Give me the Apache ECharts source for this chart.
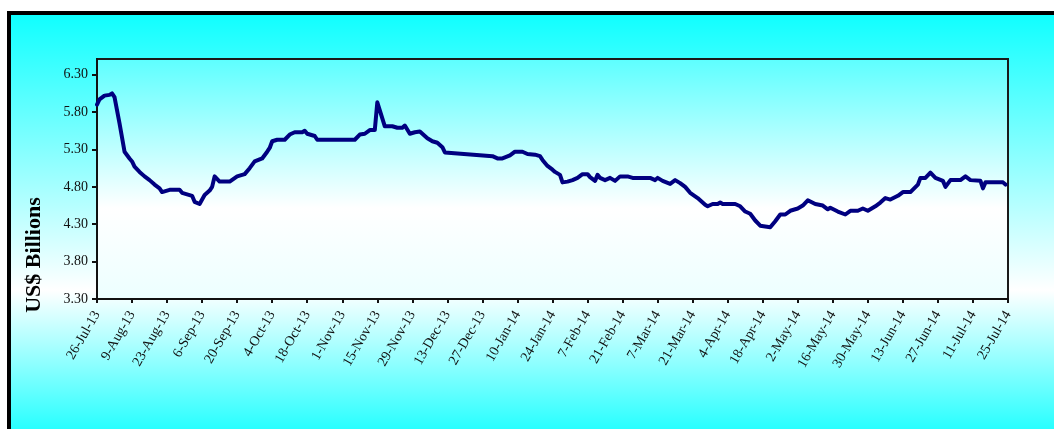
<!DOCTYPE html>
<html lang="en">
<head>
    <meta charset="UTF-8">
    <title>Reserves</title>
    <script src="https://cdn.jsdelivr.net/npm/echarts@6/dist/echarts.min.js"></script>
</head>
<style>
    *{
        margin: 0;
        padding: 0;
    }
    html , body{
        width: 100%;
        height: 100%;
        overflow: hidden;
        background: #fff;
    }
    .frame{
        position: absolute;
        left: 7px;
        top: 11px;
        width: 1100px;
        height: 430px;
        border: 4px solid #000;
        background: linear-gradient(to bottom, #10ffff 0%, #ffffff 64%, #10ffff 100%);
    }
    .container{
        position: absolute;
        left: 0;
        top: 0;
        width: 1054px;
        height: 429px;
    }
</style>
<body>
<div class="frame"></div>
<div class="container"></div>
<script>
    // daily values (dates as yyyy-mm-dd)
    let dates=['2013-07-26','2013-07-27','2013-07-29','2013-07-31','2013-08-01','2013-08-02','2013-08-04','2013-08-06','2013-08-08','2013-08-09',
        '2013-08-10','2013-08-12','2013-08-14','2013-08-16','2013-08-18','2013-08-20','2013-08-21','2013-08-22','2013-08-24','2013-08-28',
        '2013-08-29','2013-09-01','2013-09-02','2013-09-03','2013-09-05','2013-09-07','2013-09-09','2013-09-10','2013-09-11','2013-09-13',
        '2013-09-17','2013-09-20','2013-09-23','2013-09-25','2013-09-27','2013-09-30','2013-10-02','2013-10-03','2013-10-04','2013-10-06',
        '2013-10-09','2013-10-11','2013-10-13','2013-10-16','2013-10-17','2013-10-18','2013-10-21','2013-10-22','2013-11-06','2013-11-08',
        '2013-11-10','2013-11-12','2013-11-14','2013-11-15','2013-11-18','2013-11-21','2013-11-23','2013-11-25','2013-11-26','2013-11-28',
        '2013-11-30','2013-12-02','2013-12-03','2013-12-05','2013-12-07','2013-12-09','2013-12-11','2013-12-12','2013-12-31','2014-01-02',
        '2014-01-04','2014-01-07','2014-01-09','2014-01-12','2014-01-14','2014-01-17','2014-01-19','2014-01-20','2014-01-22','2014-01-24',
        '2014-01-25','2014-01-27','2014-01-28','2014-01-30','2014-02-01','2014-02-03','2014-02-05','2014-02-07','2014-02-08','2014-02-10',
        '2014-02-11','2014-02-12','2014-02-14','2014-02-16','2014-02-18','2014-02-20','2014-02-23','2014-02-25','2014-03-04','2014-03-06',
        '2014-03-07','2014-03-09','2014-03-12','2014-03-14','2014-03-16','2014-03-18','2014-03-20','2014-03-23','2014-03-26','2014-03-27',
        '2014-03-29','2014-03-31','2014-04-01','2014-04-02','2014-04-07','2014-04-09','2014-04-11','2014-04-13','2014-04-15','2014-04-17',
        '2014-04-19','2014-04-21','2014-04-23','2014-04-25','2014-04-27','2014-04-29','2014-05-02','2014-05-04','2014-05-06','2014-05-09',
        '2014-05-12','2014-05-14','2014-05-15','2014-05-18','2014-05-21','2014-05-23','2014-05-26','2014-05-28','2014-05-30','2014-06-02',
        '2014-06-04','2014-06-06','2014-06-08','2014-06-11','2014-06-13','2014-06-16','2014-06-19','2014-06-20','2014-06-22','2014-06-24',
        '2014-06-26','2014-06-29','2014-06-30','2014-07-02','2014-07-06','2014-07-08','2014-07-10','2014-07-14','2014-07-15','2014-07-16',
        '2014-07-23','2014-07-24'];
    let values=[5.90,5.97,6.02,6.03,6.05,6.00,5.65,5.27,5.18,5.14,
        5.07,5.00,4.94,4.89,4.83,4.78,4.73,4.74,4.76,4.76,
        4.72,4.69,4.68,4.60,4.57,4.69,4.75,4.80,4.94,4.87,
        4.87,4.94,4.97,5.05,5.14,5.18,5.27,5.32,5.41,5.43,
        5.43,5.50,5.53,5.53,5.55,5.51,5.48,5.43,5.43,5.50,
        5.51,5.56,5.56,5.93,5.61,5.61,5.59,5.59,5.62,5.51,
        5.53,5.54,5.51,5.45,5.41,5.39,5.33,5.26,5.21,5.18,
        5.18,5.22,5.27,5.27,5.24,5.23,5.21,5.16,5.08,5.03,
        5.00,4.96,4.86,4.87,4.89,4.92,4.97,4.97,4.93,4.88,
        4.96,4.92,4.89,4.92,4.88,4.94,4.94,4.92,4.92,4.89,
        4.92,4.88,4.84,4.89,4.85,4.80,4.72,4.65,4.56,4.54,
        4.57,4.57,4.59,4.57,4.57,4.54,4.47,4.44,4.35,4.28,
        4.27,4.26,4.34,4.43,4.43,4.48,4.51,4.55,4.62,4.57,
        4.55,4.50,4.52,4.47,4.43,4.48,4.48,4.51,4.48,4.54,
        4.59,4.65,4.63,4.68,4.73,4.73,4.83,4.92,4.92,4.99,
        4.92,4.88,4.80,4.89,4.89,4.94,4.89,4.88,4.78,4.86,
        4.86,4.83];
    let yTicks=[3.30,3.80,4.30,4.80,5.30,5.80,6.30];
    let firstDay='2013-07-26';
    let lastDay='2014-07-25';
    let months=['Jan','Feb','Mar','Apr','May','Jun','Jul','Aug','Sep','Oct','Nov','Dec'];

    // every calendar day on the axis, labelled every 14 days
    let days=[];
    let d=new Date(firstDay+'T00:00:00Z');
    let end=new Date(lastDay+'T00:00:00Z');
    while(d<=end){
        days.push(d.toISOString().slice(0,10));
        d=new Date(d.getTime()+86400000);
    }
    function fmtDay(s){
        let p=s.split('-');
        return parseInt(p[2],10)+'-'+months[parseInt(p[1],10)-1]+'-'+p[0].slice(2);
    }

    let font='"Liberation Serif", "Times New Roman", serif';
    let mycharts=echarts.init(document.querySelector('.container'));
    let option={
        animation:false,
        grid:{
            left:97,
            top:59,
            right:46,
            bottom:130,
            show:true,
            borderColor:'#1a1a1a',
            borderWidth:2,
            backgroundColor:{
                type:'linear', x:0, y:0, x2:0, y2:1,
                colorStops:[
                    {offset:0, color:'#5cffff'},
                    {offset:0.62, color:'#ffffff'},
                    {offset:1, color:'#ecffff'}
                ]
            }
        },
        xAxis:{
            type:'category',
            data:days,
            boundaryGap:false,
            axisLine:{lineStyle:{color:'#111', width:2}},
            axisTick:{
                length:4,
                interval:function (i) { return i%14===0; },
                lineStyle:{color:'#111', width:2}
            },
            axisLabel:{
                interval:function (i) { return i%14===0; },
                rotate:60,
                margin:13,
                color:'#111',
                fontFamily:font,
                fontSize:14,
                formatter:fmtDay
            },
            splitLine:{show:false}
        },
        yAxis:{
            type:'value',
            min:3.3,
            max:6.51,
            axisLine:{show:true, lineStyle:{color:'#111', width:2}},
            axisTick:{show:true, length:5, customValues:yTicks, lineStyle:{color:'#111', width:2}},
            axisLabel:{
                customValues:yTicks,
                margin:9,
                color:'#111',
                fontFamily:font,
                fontSize:14,
                formatter:v=>v.toFixed(2)
            },
            splitLine:{show:false}
        },
        graphic:[{
            type:'text',
            x:34,
            y:255,
            rotation:Math.PI/2,
            style:{
                text:'US$ Billions',
                align:'center',
                verticalAlign:'middle',
                textAlign:'center',
                textVerticalAlign:'middle',
                font:'bold 22px '+font,
                fill:'#000'
            }
        }],
        series:[{
            type:'line',
            data:dates.map((t,i)=>[t, values[i]]),
            showSymbol:false,
            lineStyle:{color:'#000080', width:4, join:'round', cap:'round'}
        }]
    };
    mycharts.setOption(option);
</script>
</body>
</html>
